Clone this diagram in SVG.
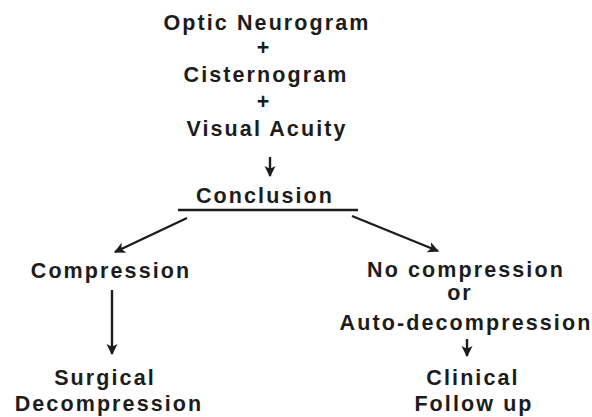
<svg xmlns="http://www.w3.org/2000/svg" width="592" height="417" viewBox="0 0 592 417">
<style>
text{font-family:"Liberation Sans",Arial,sans-serif;font-weight:bold;font-size:21.5px;fill:#1c1c1c;text-anchor:middle;letter-spacing:2.1px}
.c line{stroke:#1c1c1c;stroke-width:2.4;fill:none}
</style>
<defs>
<marker id="ah" viewBox="0 0 10 10" refX="9" refY="5" markerWidth="4.6" markerHeight="4.6" orient="auto" markerUnits="strokeWidth">
<path d="M0,0 L10,5 L0,10 L2.5,5 Z" fill="#1c1c1c"/>
</marker>
</defs>
<rect width="592" height="417" fill="#fff"/>
<g id="inputs">
<text x="267" y="30">Optic Neurogram</text>
<text x="264" y="55">+</text>
<text x="266" y="82">Cisternogram</text>
<text x="264" y="109">+</text>
<text x="267" y="136">Visual Acuity</text>
</g>
<g id="conclusion">
<text x="265" y="203">Conclusion</text>
</g>
<g id="compression"><text x="111" y="278">Compression</text></g>
<g id="surgical"><text x="105" y="385">Surgical</text><text x="109" y="411">Decompression</text></g>
<g id="nocompression">
<text x="466" y="277">No compression</text>
<text x="460" y="300">or</text>
<text x="466" y="330">Auto-decompression</text>
</g>
<g id="clinical"><text x="473" y="385">Clinical</text><text x="474" y="411">Follow up</text></g>
<g class="c" id="connectors">
<line x1="178" y1="210" x2="358" y2="210"/>
<line x1="270" y1="157" x2="270" y2="176" marker-end="url(#ah)"/>
<line x1="187" y1="218" x2="115" y2="252" marker-end="url(#ah)"/>
<line x1="352" y1="216" x2="438" y2="251" marker-end="url(#ah)"/>
<line x1="112" y1="290" x2="112" y2="354" marker-end="url(#ah)"/>
<line x1="467" y1="339" x2="467" y2="356" marker-end="url(#ah)"/>
</g>
</svg>
